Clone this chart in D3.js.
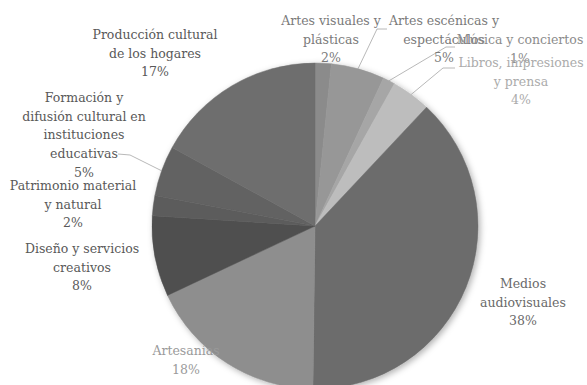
<!DOCTYPE html>
<html><head><meta charset="utf-8">
<script src="https://cdn.jsdelivr.net/npm/d3@7"></script>
<style>body{margin:0;background:#fff}svg{display:block}
.lbl{font-family:"DejaVu Serif",serif;font-size:12.5px;letter-spacing:0px}</style>
</head><body><svg id="c" width="587" height="385"></svg>
<script>
// ---- data ----
const categories = [
  "Artes visuales y\nplásticas",
  "Artes escénicas y\nespectáculos",
  "Música y conciertos",
  "Libros, impresiones\ny prensa",
  "Medios\naudiovisuales",
  "Artesanías",
  "Diseño y servicios\ncreativos",
  "Patrimonio material\ny natural",
  "Formación y\ndifusión cultural en\ninstituciones\neducativas",
  "Producción cultural\nde los hogares"
];
const shares = [0.016, 0.053, 0.012, 0.039, 0.382, 0.178, 0.080, 0.020, 0.050, 0.170];
const sliceColors = ["#8b8b8b", "#979797", "#a6a6a6", "#bdbdbd", "#6c6c6c", "#8e8e8e", "#505050", "#5c5c5c", "#626262", "#6e6e6e"];
const labelColors = ["#7a7a7a", "#7a7a7a", "#8c8c8c", "#ababab", "#6a6a6a", "#9a9a9a", "#595959", "#595959", "#595959", "#595959"];
// label layout (centre x, first baseline y)
const labelPos = [[331,25],[444,25],[520,44],[521,67],[523,288],[186,355],[82,253],[73,190],[84,102],[155,39]];
// leader line elbows (label side) for moved labels
const leaders = {1: [[377,29],[387,29]], 2: [[446,47],[455,47]], 3: [[443,68],[455,68]], 8: [[130,155],[118,154]]};

const svg = d3.select("#c");
const cx = 315, cy = 226, r = 163;

const defs = svg.append("defs");
const f = defs.append("filter").attr("id","sh").attr("x","-20%").attr("y","-20%").attr("width","140%").attr("height","140%");
f.append("feDropShadow").attr("dx",2).attr("dy",2).attr("stdDeviation",3).attr("flood-color","#000").attr("flood-opacity",0.3);

const pie = d3.pie().sort(null).value(d => d);
const arcs = pie(shares);
const arc = d3.arc().innerRadius(0).outerRadius(r);

const g = svg.append("g").attr("transform", `translate(${cx},${cy})`);
g.append("g").attr("filter","url(#sh)")
  .selectAll("path").data(arcs).join("path")
  .attr("d", arc)
  .attr("fill", (d,i) => sliceColors[i])
  .attr("stroke", (d,i) => sliceColors[i])
  .attr("stroke-width", 0.5);

// leader lines
const fmt = d3.format(".0%");
Object.entries(leaders).forEach(([k, pts]) => {
  const d = arcs[+k];
  const a = (d.startAngle + d.endAngle) / 2;
  const p0 = [cx + r * Math.sin(a), cy - r * Math.cos(a)];
  svg.append("polyline")
    .attr("points", [p0, ...pts].map(p => p.join(",")).join(" "))
    .attr("fill","none").attr("stroke","#a6a6a6").attr("stroke-width",0.8);
});

// labels
const lh = 18.7;
categories.forEach((name, i) => {
  const lines = name.split("\n").concat([fmt(shares[i])]);
  const t = svg.append("text")
    .attr("class","lbl")
    .attr("x", labelPos[i][0]).attr("y", labelPos[i][1])
    .attr("text-anchor","middle")
    .attr("fill", labelColors[i]);
  lines.forEach((ln, j) => {
    t.append("tspan").attr("x", labelPos[i][0]).attr("dy", j === 0 ? 0 : lh).text(ln);
  });
});
</script></body></html>
